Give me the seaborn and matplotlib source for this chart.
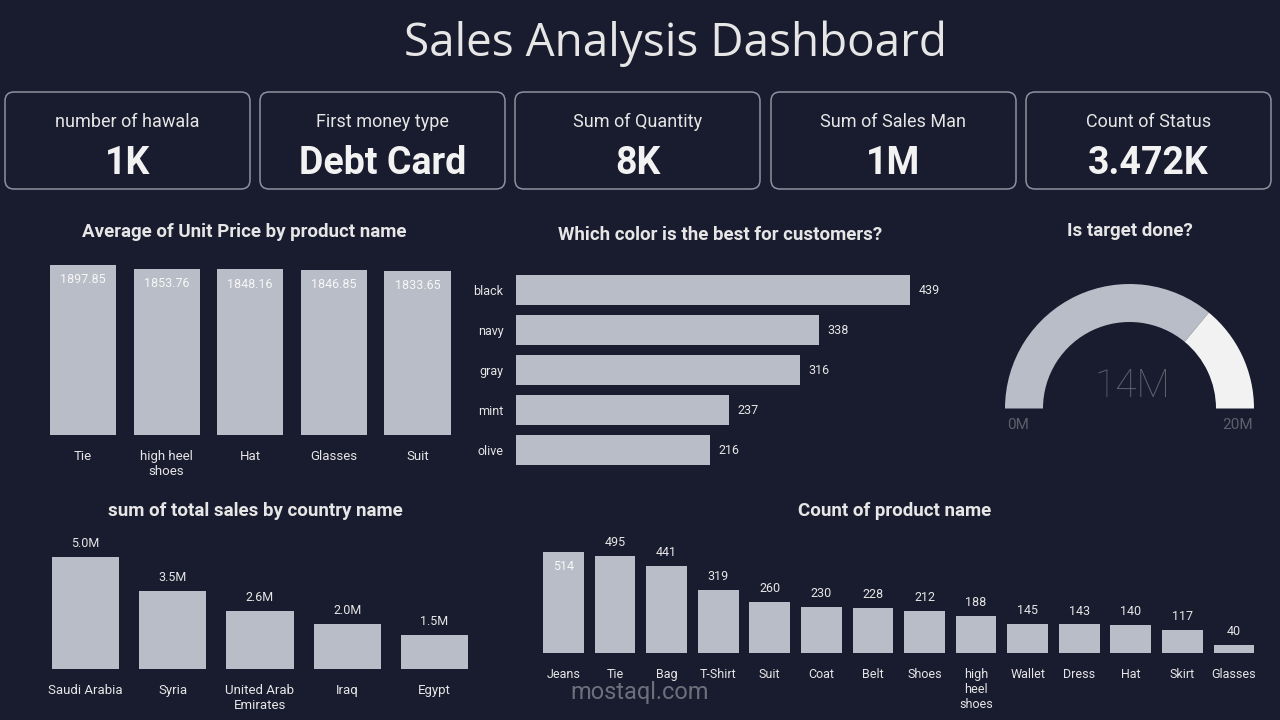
import matplotlib
matplotlib.use("Agg")
import matplotlib.pyplot as plt
from matplotlib.patches import FancyBboxPatch
import seaborn as sns
import pandas as pd

# ---------------- data ----------------
kpi_labels = ["number of hawala", "First money type", "Sum of Quantity", "Sum of Sales Man", "Count of Status"]
kpi_values = ["1K", "Debt Card", "8K", "1M", "3.472K"]

price_products = ["Tie", "high heel\nshoes", "Hat", "Glasses", "Suit"]
price_values = [1897.85, 1853.76, 1848.16, 1846.85, 1833.65]

color_names = ["black", "navy", "gray", "mint", "olive"]
color_counts = [439, 338, 316, 237, 216]

gauge_value = 14.4   # millions
gauge_max = 20

countries = ["Saudi Arabia", "Syria", "United Arab\nEmirates", "Iraq", "Egypt"]
country_sales = [5.0, 3.5, 2.6, 2.0, 1.5]   # millions

count_products = ["Jeans", "Tie", "Bag", "T-Shirt", "Suit", "Coat", "Belt", "Shoes",
                  "high\nheel\nshoes", "Wallet", "Dress", "Hat", "Skirt", "Glasses"]
count_values = [514, 495, 441, 319, 260, 230, 228, 212, 188, 145, 143, 140, 117, 40]

# ---------------- style ----------------
BG = "#191b2e"
BAR = "#b9bdc7"
TXT = "#e6e6e6"
BORDER = "#8f919c"
sns.set_style("dark")
plt.rcParams["font.family"] = ["Roboto", "DejaVu Sans"]
plt.rcParams["axes.facecolor"] = "none"

W, H = 1280, 720
fig = plt.figure(figsize=(12.8, 7.2), dpi=100, facecolor=BG)

bg = fig.add_axes([0, 0, 1, 1], zorder=0)
bg.set_xlim(0, W)
bg.set_ylim(H, 0)
bg.axis("off")
bg.patch.set_alpha(0)


def ax_px(left, top, right, bottom):
    a = fig.add_axes([left / W, 1 - bottom / H, (right - left) / W, (bottom - top) / H], zorder=2)
    a.patch.set_alpha(0)
    for s in a.spines.values():
        s.set_visible(False)
    a.grid(False)
    a.tick_params(length=0, colors=TXT)
    return a


BAR_KW = dict(color=BAR, saturation=1, linewidth=0)

# title
bg.text(676, 44, "Sales Analysis Dashboard", color=TXT, fontsize=33,
        ha="center", va="center", family=["Open Sans", "DejaVu Sans"])

# KPI cards
card_x = [5, 260, 515, 771, 1026]
card_w = 245
for x0, lab, val in zip(card_x, kpi_labels, kpi_values):
    bg.add_patch(FancyBboxPatch((x0, 92), card_w, 97,
                                boxstyle="round,pad=0,rounding_size=9",
                                facecolor="none", edgecolor=BORDER, linewidth=1.1))
    bg.text(x0 + card_w / 2, 122, lab, color=TXT, fontsize=13, ha="center", va="center")
    bg.text(x0 + card_w / 2, 164, val, color="#f2f2f2", fontsize=27, ha="center",
            va="center", fontweight="bold")

# ---------- Average of Unit Price ----------
bg.text(244, 232, "Average of Unit Price by product name", color=TXT, fontsize=13.5,
        ha="center", va="center", fontweight="bold")
ax1 = ax_px(41.2, 265, 459.3, 435)
df1 = pd.DataFrame({"product": price_products, "price": price_values})
sns.barplot(data=df1, x="product", y="price", width=0.79, ax=ax1, **BAR_KW)
ax1.set_ylim(0, max(price_values))
ax1.set_xlim(-0.5, len(price_products) - 0.5)
ax1.set_yticks([])
ax1.set_xlabel("")
ax1.set_ylabel("")
ax1.tick_params(axis="x", labelsize=9.5, pad=11, labelcolor=TXT)
for i, v in enumerate(price_values):
    ax1.annotate(f"{v:.2f}", (i, v), xytext=(0, -6), textcoords="offset points",
                 ha="center", va="top", color="#f7f7f7", fontsize=9)

# ---------- Which color ----------
bg.text(720, 235, "Which color is the best for customers?", color=TXT, fontsize=13.5,
        ha="center", va="center", fontweight="bold")
ax2 = ax_px(516, 270, 960, 470)
df2 = pd.DataFrame({"color": color_names, "count": color_counts})
sns.barplot(data=df2, y="color", x="count", orient="h", width=0.75, ax=ax2, **BAR_KW)
ax2.set_xlim(0, 444 / (394 / max(color_counts)))
ax2.set_ylim(len(color_names) - 0.5, -0.5)
ax2.set_xticks([])
ax2.set_xlabel("")
ax2.set_ylabel("")
ax2.tick_params(axis="y", labelsize=9, pad=9, labelcolor=TXT)
for i, v in enumerate(color_counts):
    ax2.annotate(f"{v}", (v, i), xytext=(6, 0), textcoords="offset points",
                 ha="left", va="center", color=TXT, fontsize=9)

# ---------- Gauge ----------
bg.text(1130, 231, "Is target done?", color=TXT, fontsize=13.5, ha="center", va="center",
        fontweight="bold")
gc_x, gc_y, half = 1129.5, 408.5, 130
axg = ax_px(gc_x - half, gc_y - half, gc_x + half, gc_y + half)
axg.pie([gauge_value, gauge_max - gauge_value, gauge_max],
        colors=[BAR, "#f2f2f2", "none"], startangle=180, counterclock=False,
        radius=1, wedgeprops=dict(width=38 / 124.5, linewidth=0))
lim = half / 124.5
axg.set_xlim(-lim, lim)
axg.set_ylim(-lim, lim)
axg.set_aspect("equal")
axg.axis("off")
bg.text(1132, 386, f"{gauge_value:.0f}M", color="#5d5f6b", fontsize=28, ha="center",
        va="center", fontweight="light")
bg.text(1018, 425, "0M", color="#5d5f6b", fontsize=11, ha="center", va="center")
bg.text(1238, 425, f"{gauge_max}M", color="#5d5f6b", fontsize=11, ha="center", va="center")

# ---------- Country sales ----------
bg.text(255, 511, "sum of total sales by country name", color=TXT, fontsize=13.5,
        ha="center", va="center", fontweight="bold")
ax4 = ax_px(41.9, 540, 478, 669)
df4 = pd.DataFrame({"country": countries, "sales": country_sales})
sns.barplot(data=df4, x="country", y="sales", width=0.77, ax=ax4, **BAR_KW)
ax4.set_ylim(0, max(country_sales) * 129 / 112)
ax4.set_xlim(-0.5, len(countries) - 0.5)
ax4.set_yticks([])
ax4.set_xlabel("")
ax4.set_ylabel("")
ax4.tick_params(axis="x", labelsize=9.5, pad=11, labelcolor=TXT)
for i, v in enumerate(country_sales):
    ax4.annotate(f"{v:.1f}M", (i, v), xytext=(0, 5), textcoords="offset points",
                 ha="center", va="bottom", color=TXT, fontsize=9)

# ---------- Count of product ----------
bg.text(895, 511, "Count of product name", color=TXT, fontsize=13.5, ha="center",
        va="center", fontweight="bold")
ax5 = ax_px(537.7, 530, 1259.8, 652.5)
df5 = pd.DataFrame({"product": count_products, "count": count_values})
sns.barplot(data=df5, x="product", y="count", width=0.79, ax=ax5, **BAR_KW)
ymax5 = max(count_values) * 122.5 / 100.7
ax5.set_ylim(0, ymax5)
ax5.set_xlim(-0.5, len(count_products) - 0.5)
ax5.set_yticks([])
ax5.set_xlabel("")
ax5.set_ylabel("")
ax5.tick_params(axis="x", labelsize=9, pad=11, labelcolor=TXT)
for i, v in enumerate(count_values):
    if v > 0.8 * ymax5:
        ax5.annotate(f"{v}", (i, v), xytext=(0, -6), textcoords="offset points",
                     ha="center", va="top", color="#f7f7f7", fontsize=9)
    else:
        ax5.annotate(f"{v}", (i, v), xytext=(0, 5), textcoords="offset points",
                     ha="center", va="bottom", color=TXT, fontsize=9)

# watermark
bg.text(640, 692, "mostaql.com", color="#8a8c96", alpha=0.75, fontsize=17,
        ha="center", va="center", zorder=5)

fig.savefig("out.png", dpi=100, facecolor=BG)
